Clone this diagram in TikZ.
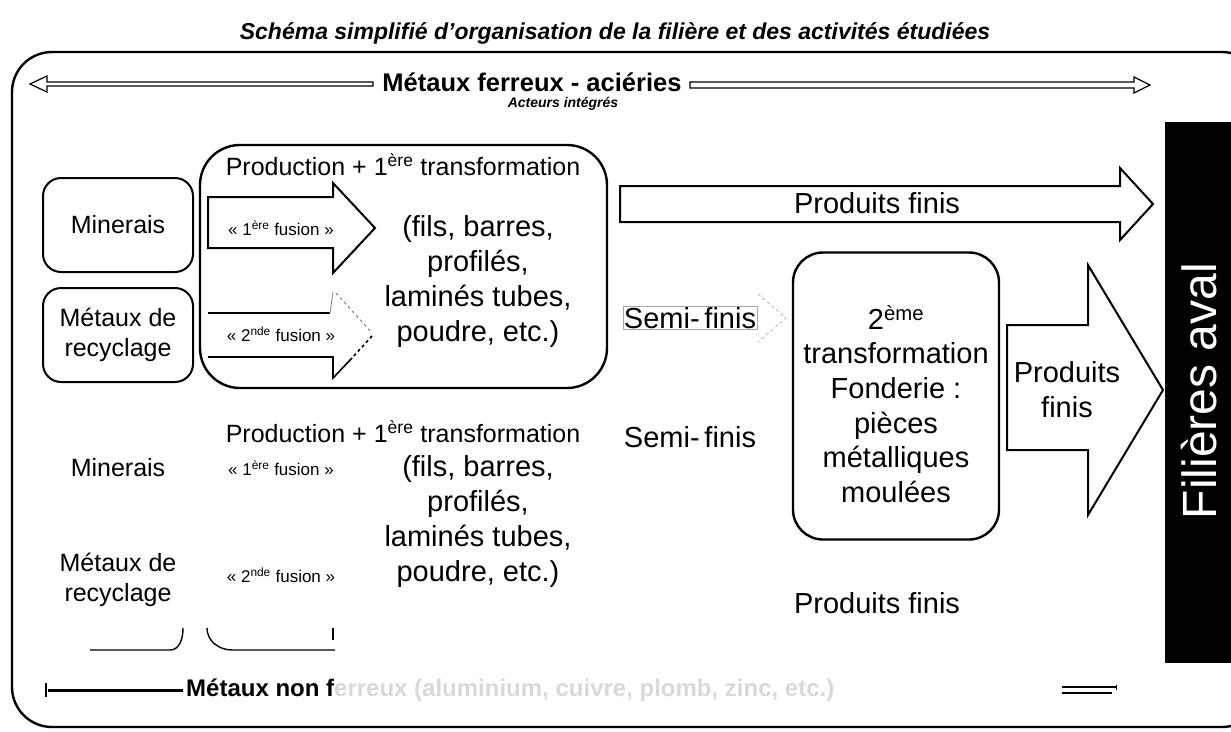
\documentclass[tikz,border=0pt]{standalone}
\usepackage{fontspec}
\setmainfont{Liberation Sans}
\begin{document}
\begin{tikzpicture}[x=1pt,y=-1pt,
  every node/.style={inner sep=0pt, align=center},
  f25/.style={font=\fontsize{25}{30}\selectfont},
  f29/.style={font=\fontsize{29}{35}\selectfont},
  f17/.style={font=\fontsize{17}{20}\selectfont},
  rbox/.style={draw, line width=2pt, rounded corners=18pt},
  blockarrow/.style={draw, line width=2pt, line join=miter},
  thinarrow/.style={draw, line width=1.2pt, line join=miter},
]
\clip (0,0) rectangle (1231,731);
\fill[white] (0,0) rectangle (1231,731);

% title and frame
\node[font=\bfseries\itshape\fontsize{23}{26}\selectfont] (title) at (615,33)
  {Schéma simplifié d’organisation de la filière et des activités étudiées};
\draw[line width=2.4pt, rounded corners=40pt] (12,52) rectangle (1262,727);

% ferrous header
\node[font=\bfseries\fontsize{25.5}{29}\selectfont] (ferr) at (532,82) {Métaux ferreux - aciéries};
\node[font=\bfseries\itshape\fontsize{14}{17}\selectfont] (integ) at (563,104) {Acteurs intégrés};
\draw[thinarrow] (373,82) -- (47,82) -- (47,76) -- (30,84) -- (47,92) -- (47,86) -- (373,86) -- cycle;
\draw[thinarrow] (690,82) -- (1134,82) -- (1134,77) -- (1150,85) -- (1134,93) -- (1134,88) -- (690,88) -- cycle;

% raw materials
\node[rbox, minimum width=150pt, minimum height=94pt, f25] (min) at (118,225) {Minerais};
\node[rbox, minimum width=150pt, minimum height=94pt, f25] (rec) at (118,335) {Métaux de\\recyclage};

% production box
\node[draw, line width=2.4pt, rounded corners=40pt, minimum width=407pt, minimum height=243pt] (prod) at (403.5,266.5) {};
\node[f25] (prodt) at (403,165) {Production + 1\textsuperscript{ère} transformation};

\draw[blockarrow] (208,197) -- (333,197) -- (333,183) -- (375,228) -- (333,273) -- (333,248) -- (208,248) -- cycle;
\node[f17] (f1) at (281,228) {« 1\textsuperscript{ère} fusion »};

\draw[line width=1.6pt] (208,313) -- (330,313);
\draw[line width=0.8pt, gray] (330,313) -- (333,292);
\draw[line width=1pt, dashed, gray] (336,293) -- (372,333);
\draw[line width=1.6pt, dash pattern=on 3pt off 3pt] (372,336) -- (352,358);
\draw[line width=1.6pt] (352,358) -- (333,378) -- (333,357) -- (208,357);
\node[f17] (f2) at (281,334) {« 2\textsuperscript{nde} fusion »};

\node[f29] (pl1) at (478,281) {(fils, barres,\\profilés,\\laminés tubes,\\poudre, etc.)};

% produits finis top
\draw[blockarrow] (620,186) -- (1120,186) -- (1120,168) -- (1153,204) -- (1120,240) -- (1120,222) -- (620,222) -- cycle;
\node[f29] (pf1) at (877,203) {Produits finis};

% semi-finis top
\node[f29, draw=gray!70, line width=0.6pt, inner sep=1pt] (semi1) at (690,318) {Semi-\,finis};
\draw[gray!60, dashed, line width=0.8pt] (758,294) -- (786,318) -- (758,342);

% fonderie
\node[rbox, rounded corners=30pt, line width=2.4pt, minimum width=206pt, minimum height=287pt] (fond) at (896,396) {};
\node[font=\fontsize{29}{34.6}\selectfont] (fondt) at (896,404) {2\textsuperscript{ème}\\transformation\\Fonderie :\\pièces\\métalliques\\moulées};

\draw[blockarrow] (1007,325) -- (1088,325) -- (1088,265) -- (1163,390) -- (1088,515) -- (1088,450) -- (1007,450) -- cycle;
\node[f29] (pf2) at (1067,390) {Produits\\finis};

% filieres aval
\node[fill=black, minimum width=66pt, minimum height=541pt] (aval) at (1198,392.5) {};
\node[rotate=90, text=white, font=\fontsize{48}{52}\selectfont] (avalt) at (1199,391) {Filières aval};

% lower section
\node[f25] (prodt2) at (403,432) {Production + 1\textsuperscript{ère} transformation};
\node[f25] (min2) at (118,468) {Minerais};
\node[f17] (f1b) at (281,468) {« 1\textsuperscript{ère} fusion »};
\node[f29] (pl2) at (478,521) {(fils, barres,\\profilés,\\laminés tubes,\\poudre, etc.)};
\node[f25] (rec2) at (118,580) {Métaux de\\recyclage};
\node[f17] (f2b) at (281,575) {« 2\textsuperscript{nde} fusion »};
\node[f29] (semi2) at (690,437) {Semi-\,finis};
\node[f29] (pf3) at (877,603) {Produits finis};

\draw[line width=1.4pt] (90,650) -- (170,650) to[out=0,in=-90] (183,628);
\draw[line width=1.4pt] (207,628) to[out=-90,in=180] (232,650) -- (335,650);
\draw[line width=1.2pt] (333,628) -- (333,640);

% non ferrous
\draw[line width=3pt] (48,690) -- (183,690);
\draw[line width=2pt] (46,683) -- (46,697);
\node[font=\bfseries\fontsize{24}{28}\selectfont, anchor=west] (nf) at (186,690)
  {Métaux non f\textcolor{gray!30}{erreux (aluminium, cuivre, plomb, zinc, etc.)}};
\draw[line width=1.2pt] (1062,687) -- (1116,687) (1062,693) -- (1112,693);
\draw[line width=1pt] (1116,685) -- (1116,690);
\end{tikzpicture}
\end{document}
